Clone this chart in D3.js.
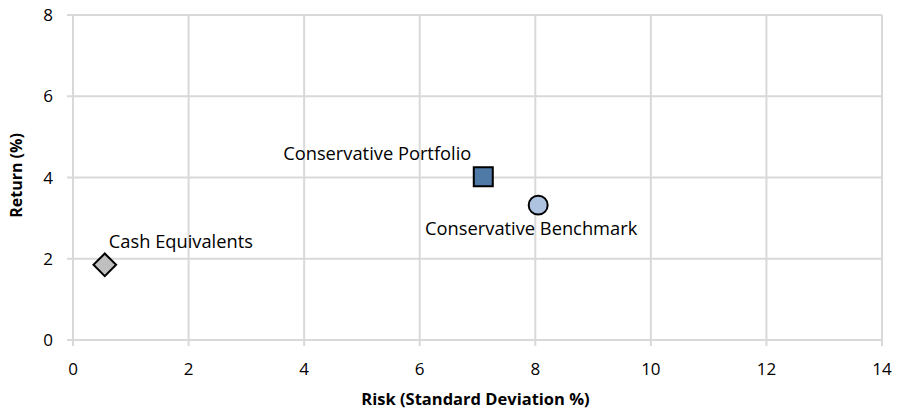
<!DOCTYPE html>
<html>
<head>
<meta charset="utf-8">
<script src="https://cdn.jsdelivr.net/npm/d3@7"></script>
<style>
  body { margin: 0; background: #fff; }
  text { font-family: 'Open Sans', sans-serif; fill: #000; }
</style>
</head>
<body>
<div id="viz"></div>
<script>
'use strict';

const names = ['Cash Equivalents', 'Conservative Portfolio', 'Conservative Benchmark'];
const risk = [0.55, 7.1, 8.05];
const ret = [1.85, 4.02, 3.32];
const shapes = ['diamond', 'square', 'circle'];
const fills = ['#bfbfbf', '#4f7aa8', '#adc3e0'];
const xTicks = [0, 2, 4, 6, 8, 10, 12, 14];
const yTicks = [0, 2, 4, 6, 8];

const W = 905, H = 415;
const margin = {top: 15, right: 23, bottom: 75, left: 73};
const width = W - margin.left - margin.right;
const height = H - margin.top - margin.bottom;

const svg = d3.select('#viz')
  .append('svg')
    .attr('width', W)
    .attr('height', H)
  .append('g')
    .attr('transform', `translate(${margin.left},${margin.top})`);

const x = d3.scaleLinear().domain([0, 14]).range([0, width]);
const y = d3.scaleLinear().domain([0, 8]).range([height, 0]);

// grid lines, extended a few px past the axes like tick marks
svg.append('g')
  .selectAll('line')
  .data(xTicks)
  .join('line')
    .attr('x1', d => x(d)).attr('x2', d => x(d))
    .attr('y1', 0).attr('y2', height + 6)
    .attr('stroke', '#d9d9d9')
    .attr('stroke-width', 2);

svg.append('g')
  .selectAll('line')
  .data(yTicks)
  .join('line')
    .attr('x1', -6).attr('x2', width)
    .attr('y1', d => y(d)).attr('y2', d => y(d))
    .attr('stroke', '#d9d9d9')
    .attr('stroke-width', 2);

// tick labels
svg.append('g')
  .selectAll('text')
  .data(xTicks)
  .join('text')
    .attr('x', d => x(d))
    .attr('y', height + 35)
    .attr('text-anchor', 'middle')
    .style('font-size', '17px')
    .text(d => d);

svg.append('g')
  .selectAll('text')
  .data(yTicks)
  .join('text')
    .attr('x', -20)
    .attr('y', d => y(d) + 6)
    .attr('text-anchor', 'end')
    .style('font-size', '17px')
    .text(d => d);

// axis titles
svg.append('text')
  .attr('x', width / 2 - 2)
  .attr('y', height + 65)
  .attr('text-anchor', 'middle')
  .style('font-size', '16.5px')
  .style('font-weight', 'bold')
  .text('Risk (Standard Deviation %)');

svg.append('text')
  .attr('transform', `translate(${-51},${height / 2 - 2}) rotate(-90)`)
  .attr('text-anchor', 'middle')
  .style('font-size', '16px')
  .style('font-weight', 'bold')
  .text('Return (%)');

// points
const symbolType = {diamond: d3.symbolSquare, square: d3.symbolSquare, circle: d3.symbolCircle};
const symbolSize = {diamond: 256, square: 361, circle: 283};
const symbolRot = {diamond: 45, square: 0, circle: 0};

const pts = names.map((n, i) => ({name: n, risk: risk[i], ret: ret[i], shape: shapes[i], fill: fills[i]}));

svg.append('g')
  .selectAll('path')
  .data(pts)
  .join('path')
    .attr('transform', d => `translate(${x(d.risk)},${y(d.ret)}) rotate(${symbolRot[d.shape]})`)
    .attr('d', d => d3.symbol().type(symbolType[d.shape]).size(symbolSize[d.shape])())
    .attr('fill', d => d.fill)
    .attr('stroke', '#000')
    .attr('stroke-width', 2);

// labels
const labelPos = [
  {dx: 4, dy: -17, anchor: 'start'},
  {dx: -12, dy: -17, anchor: 'end'},
  {dx: -7, dy: 30, anchor: 'middle'}
];

svg.append('g')
  .selectAll('text')
  .data(pts)
  .join('text')
    .attr('x', (d, i) => x(d.risk) + labelPos[i].dx)
    .attr('y', (d, i) => y(d.ret) + labelPos[i].dy)
    .attr('text-anchor', (d, i) => labelPos[i].anchor)
    .style('font-size', '18.3px')
    .text(d => d.name);
</script>
</body>
</html>
